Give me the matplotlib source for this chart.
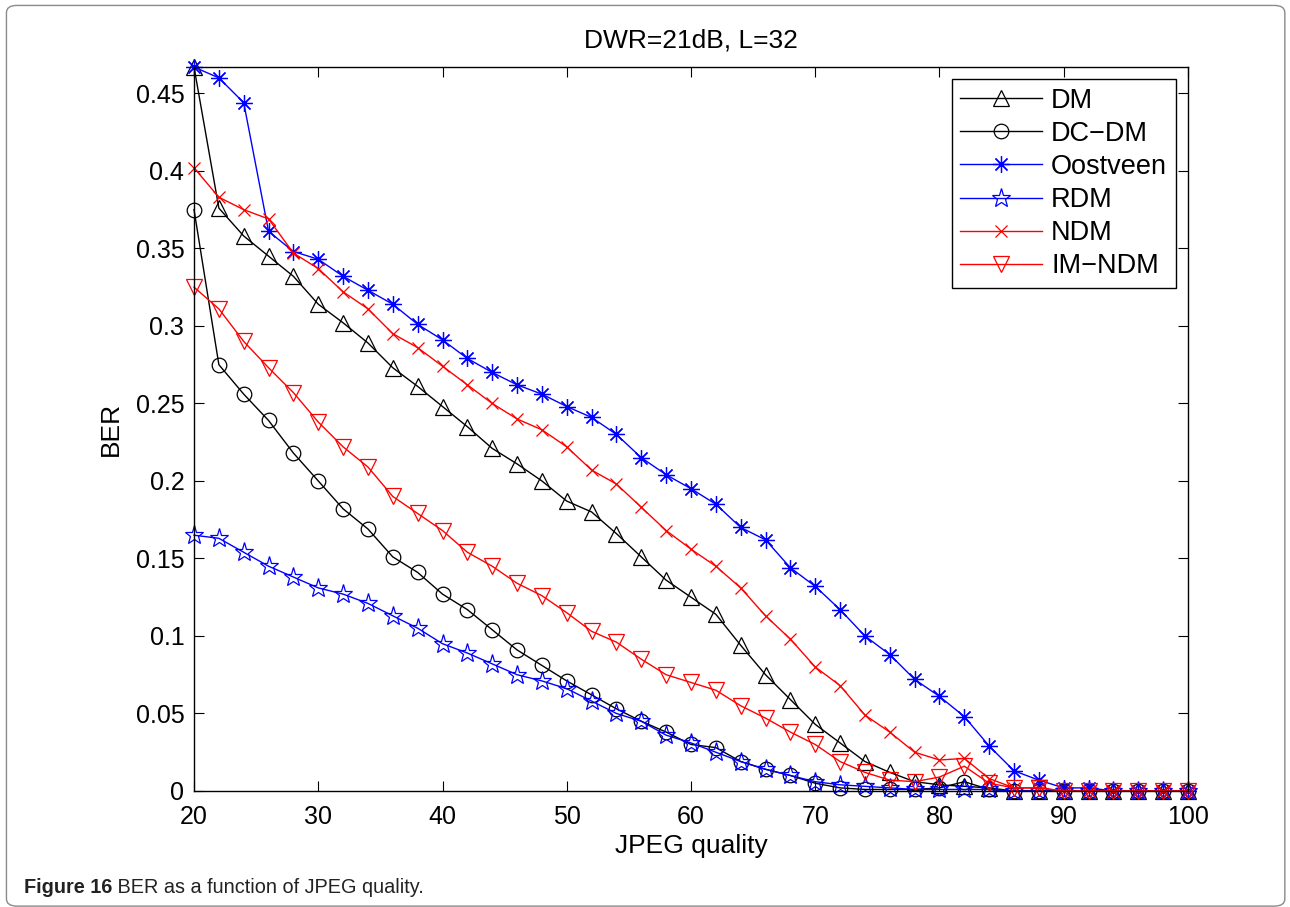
#!/usr/bin/env python3

import matplotlib
matplotlib.use("Agg")
import matplotlib.pyplot as plt
from matplotlib.patches import FancyBboxPatch


# JPEG quality factors (x axis)
QUALITY = [20, 22, 24, 26, 28, 30, 32, 34, 36, 38, 40, 42, 44, 46, 48, 50, 52, 54, 56, 58,
           60, 62, 64, 66, 68, 70, 72, 74, 76, 78, 80, 82, 84, 86, 88, 90, 92, 94, 96, 98, 100]

BER_DM = [0.467, 0.376, 0.358, 0.345, 0.332, 0.314, 0.302, 0.289, 0.273, 0.261,
          0.248, 0.235, 0.221, 0.211, 0.200, 0.187, 0.180, 0.166, 0.151, 0.136,
          0.125, 0.114, 0.094, 0.075, 0.059, 0.043, 0.031, 0.019, 0.012, 0.006,
          0.004, 0.003, 0.002, 0, 0, 0, 0, 0, 0, 0, 0]
BER_DC_DM = [0.375, 0.275, 0.256, 0.239, 0.218, 0.200, 0.182, 0.169, 0.151, 0.141,
             0.127, 0.117, 0.104, 0.091, 0.081, 0.071, 0.062, 0.053, 0.045, 0.038,
             0.030, 0.028, 0.019, 0.014, 0.010, 0.005, 0.002, 0.001, 0.001, 0.001,
             0.002, 0.006, 0.001, 0, 0, 0, 0, 0, 0, 0, 0]
BER_OOSTVEEN = [0.467, 0.460, 0.444, 0.361, 0.348, 0.343, 0.332, 0.323, 0.314, 0.301,
                0.291, 0.279, 0.270, 0.262, 0.256, 0.248, 0.241, 0.230, 0.215, 0.204,
                0.195, 0.185, 0.170, 0.162, 0.144, 0.132, 0.117, 0.100, 0.088, 0.072,
                0.061, 0.048, 0.029, 0.013, 0.007, 0.002, 0.002, 0, 0, 0, 0]
BER_RDM = [0.165, 0.163, 0.154, 0.145, 0.138, 0.131, 0.127, 0.121, 0.113, 0.105,
           0.095, 0.089, 0.082, 0.075, 0.071, 0.066, 0.058, 0.050, 0.045, 0.036,
           0.031, 0.025, 0.019, 0.014, 0.010, 0.006, 0.004, 0.003, 0.002, 0.001,
           0.001, 0.001, 0.001, 0, 0, 0, 0, 0, 0, 0, 0]
BER_NDM = [0.402, 0.383, 0.375, 0.369, 0.347, 0.337, 0.322, 0.311, 0.295, 0.286,
           0.274, 0.262, 0.250, 0.240, 0.233, 0.222, 0.207, 0.198, 0.183, 0.168,
           0.156, 0.145, 0.131, 0.113, 0.098, 0.080, 0.068, 0.049, 0.038, 0.025,
           0.020, 0.021, 0.008, 0.002, 0.002, 0, 0, 0, 0, 0, 0]
BER_IM_NDM = [0.325, 0.311, 0.290, 0.273, 0.257, 0.238, 0.222, 0.209, 0.190, 0.179,
              0.168, 0.154, 0.145, 0.134, 0.126, 0.115, 0.103, 0.096, 0.085, 0.075,
              0.070, 0.065, 0.055, 0.047, 0.038, 0.030, 0.019, 0.012, 0.007, 0.006,
              0.009, 0.016, 0.005, 0.002, 0.002, 0, 0, 0, 0, 0, 0]

X_TICKS = [20, 30, 40, 50, 60, 70, 80, 90, 100]
Y_TICKS = [0, 0.05, 0.1, 0.15, 0.2, 0.25, 0.3, 0.35, 0.4, 0.45]

TITLE = "DWR=21dB, L=32"
CAPTION_BOLD = "Figure 16"
CAPTION_REST = " BER as a function of JPEG quality."

FONT = ["Liberation Sans", "DejaVu Sans"]
TICK_FS = 18
LABEL_FS = 19


def main():
    plt.rcParams["font.family"] = FONT

    fig = plt.figure(figsize=(12.9, 9.07), dpi=100)
    ax = fig.add_axes([0.1504, 0.1279, 0.7705, 0.7982])

    styles = [
        ("DM", BER_DM, "k", dict(marker="^", ms=12)),
        ("DC\u2212DM", BER_DC_DM, "k", dict(marker="o", ms=10.5)),
        ("Oostveen", BER_OOSTVEEN, "#0000ff", dict(marker=(8, 2, 0), ms=12)),
        ("RDM", BER_RDM, "#0000ff", dict(marker="*", ms=14)),
        ("NDM", BER_NDM, "#ff0000", dict(marker="x", ms=9)),
        ("IM\u2212NDM", BER_IM_NDM, "#ff0000", dict(marker="v", ms=12)),
    ]
    for label, values, color, mk in styles:
        line, = ax.plot(QUALITY, values, color=color, linewidth=1.0, label=label,
                        markerfacecolor="none", markeredgecolor=color,
                        markeredgewidth=0.9, **mk)
        line.set_clip_on(False)

    ax.set_xlim(20, 100)
    ax.set_ylim(0, 0.467)
    ax.set_xticks(X_TICKS)
    ax.set_xticklabels([f"{t:g}" for t in X_TICKS])
    ax.set_yticks(Y_TICKS)
    ax.set_yticklabels([f"{t:g}" for t in Y_TICKS])
    ax.tick_params(direction="in", top=True, right=True, length=7, width=0.8,
                   labelsize=TICK_FS)
    ax.tick_params(axis="x", pad=10)
    ax.tick_params(axis="y", pad=7)
    for spine in ax.spines.values():
        spine.set_linewidth(1.0)

    ax.set_title(TITLE, fontsize=LABEL_FS, pad=14)
    ax.set_xlabel("JPEG quality", fontsize=LABEL_FS, labelpad=4)
    ax.set_ylabel("BER", fontsize=LABEL_FS, labelpad=9)

    leg = ax.legend(loc="upper right", fontsize=19.5, borderaxespad=0.45,
                    handlelength=3.0, handletextpad=0.35, labelspacing=0.26,
                    fancybox=False, framealpha=1, edgecolor="k", borderpad=0.32)
    leg.get_frame().set_linewidth(1.0)

    # outer rounded frame and caption
    frame = FancyBboxPatch((0.005, 0.001), 0.991, 0.993,
                           boxstyle="round,pad=0,rounding_size=0.008",
                           transform=fig.transFigure, fill=False,
                           edgecolor="#8a8a8a", linewidth=1.0)
    fig.patches.append(frame)

    cap_y = 1 - 893 / 907
    cap = fig.text(24 / 1290, cap_y, CAPTION_BOLD, fontsize=14.3,
                   fontweight="bold", ha="left", va="baseline", color="#222222")
    rest = fig.text(0.1, cap_y, CAPTION_REST, fontsize=14.3, ha="left",
                    va="baseline", color="#222222")
    fig.canvas.draw()
    bb = cap.get_window_extent()
    rest.set_x(bb.x1 / fig.bbox.width)

    fig.savefig("out.png", dpi=100)
    plt.close(fig)


if __name__ == "__main__":
    main()
